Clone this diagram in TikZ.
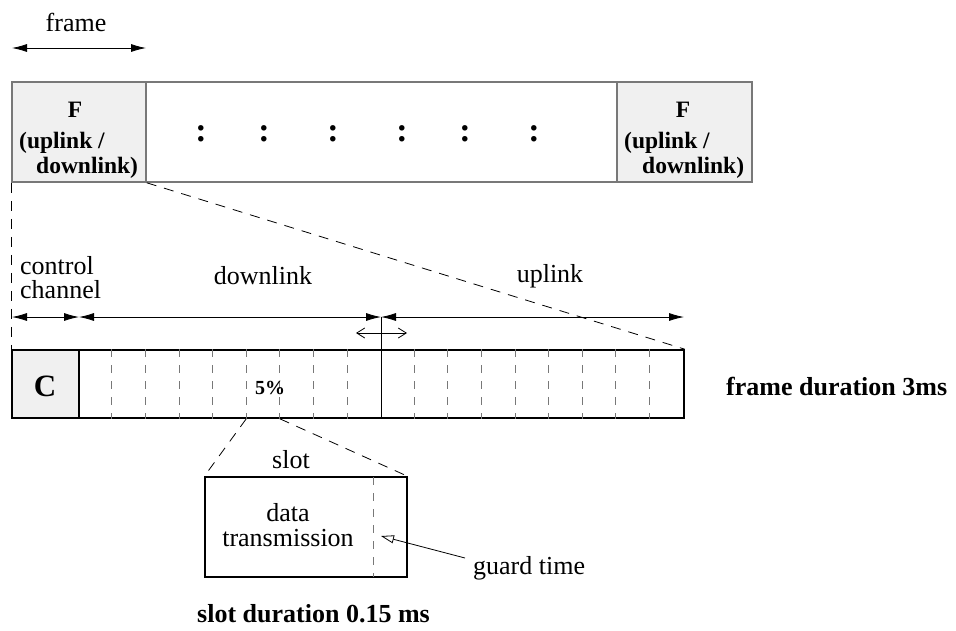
\documentclass[tikz,border=0pt]{standalone}
\usepackage{fontspec}
\setmainfont{Liberation Serif}
\usetikzlibrary{arrows.meta,calc}
\definecolor{boxgray}{RGB}{240,240,240}
\definecolor{linegray}{RGB}{120,120,120}
\tikzset{
  lbl/.style={inner sep=0pt, font=\fontsize{26}{24}\selectfont},
  blbl/.style={inner sep=0pt, font=\fontsize{26}{24}\selectfont\bfseries},
  ftxt/.style={inner sep=0pt, font=\fontsize{23.5}{25}\selectfont\bfseries},
  topbox/.style={draw=linegray, line width=1.6pt, minimum height=100pt, inner sep=0pt},
  fbox/.style={topbox, fill=boxgray},
  lowbox/.style={draw=black, line width=1.6pt, minimum height=68pt, inner sep=0pt},
  zoomline/.style={dashed, dash pattern=on 10pt off 8pt, line width=0.8pt},
  divider/.style={draw=linegray, line width=1pt, dash pattern=on 8pt off 8pt},
  dimarrow/.style={line width=0.8pt, {Latex[length=15pt,width=8pt]}-{Latex[length=15pt,width=8pt]}},
}
\begin{document}
\begin{tikzpicture}[x=1pt,y=-1pt]
\useasboundingbox (0,0) rectangle (956,630);
% top frame bar
\node[fbox, minimum width=134pt] (Fl) at (79,132) {};
\node[topbox, minimum width=471pt] (mid) at (381.5,132) {};
\node[fbox, minimum width=135pt] (Fr) at (684.5,132) {};
\node[ftxt] (Flf) at (75,110) {F};
\node[ftxt, anchor=base west] (Flu) at (19,148) {(uplink /};
\node[ftxt, anchor=base west] (Fld) at (36,173) {downlink)};
\node[ftxt] (Frf) at (683,110) {F};
\node[ftxt, anchor=base west] (Fru) at (624,148) {(uplink /};
\node[ftxt, anchor=base west] (Frd) at (642,173) {downlink)};
\foreach \i/\x in {1/201,2/264,3/333,4/402,5/465,6/534}{
  \node[inner sep=0pt, font=\fontsize{34}{34}\selectfont\bfseries] (dot\i) at (\x,134) {:};
}
% frame arrow
\node[lbl] (framelbl) at (76,22) {frame};
\coordinate (fa1) at (12,48);
\coordinate (fa2) at (146,48);
\draw[dimarrow] (fa1) -- (fa2);
% lower bar
\node[lowbox, fill=boxgray, minimum width=67pt] (C) at (45.5,384) {};
\node[inner sep=0pt, font=\fontsize{31}{31}\selectfont\bfseries] (Clbl) at (45,386) {C};
\node[lowbox, minimum width=605pt] (bar) at (381.5,384) {};
\foreach \k in {1,...,17}{
  \ifnum\k=9\relax\else
  \draw[divider] ($(bar.north west)+(\k*33.611,0)$) -- ($(bar.south west)+(\k*33.611,0)$);
  \fi
}
\coordinate (mtop) at (381,317);
\draw[line width=0.8pt] (mtop) -- (bar.south west -| mtop);
\node[inner sep=0pt, font=\fontsize{20}{20}\selectfont\bfseries] (pct) at (270,388) {5\%};
\node[blbl, anchor=west] (fdur) at (726,386) {frame duration 3ms};
% dimension arrows
\node[lbl, align=left, anchor=north west] (ctrl) at (20,256) {control\\channel};
\node[lbl] (dl) at (263,276) {downlink};
\node[lbl] (ul) at (550,276) {uplink};
\coordinate (d0) at (12,317);
\coordinate (d1) at (79,317);
\coordinate (d3) at (684,317);
\draw[dimarrow] (d0) -- (d1);
\draw[dimarrow] (d1) -- (mtop);
\draw[dimarrow] (mtop) -- (d3);
\coordinate (s1) at (356,333);
\coordinate (s2) at (407,333);
\draw[line width=0.8pt, {Straight Barb[length=8pt,width=10pt]}-{Straight Barb[length=8pt,width=10pt]}] (s1) -- (s2);
% zoom lines top
\draw[zoomline] (Fl.south west) -- (C.north west);
\draw[zoomline] (Fl.south east) -- (bar.north east);
% slot box
\node[draw=black, line width=1.4pt, minimum width=202pt, minimum height=100pt, inner sep=0pt] (slot) at (306,527) {};
\coordinate (g1) at (373,477);
\coordinate (g2) at (373,577);
\draw[divider] (g1) -- (g2);
\node[lbl] (slotlbl) at (291,460) {slot};
\node[inner sep=0pt, font=\fontsize{26}{25.5}\selectfont, align=center] (dt) at (288,525) {data\\transmission};
\coordinate (z1) at ($(bar.south west)+(5*33.611,0)$);
\coordinate (z2) at ($(bar.south west)+(6*33.611,0)$);
\draw[zoomline] (z1) -- (slot.north west);
\draw[zoomline] (z2) -- (slot.north east);
\node[lbl, anchor=west] (guard) at (473,568) {guard time};
\coordinate (gt) at (465,558);
\coordinate (gh) at (381,536);
\draw[line width=0.8pt, -{Triangle[open,length=13pt,width=8pt]}] (gt) -- (gh);
\node[blbl, anchor=west] (sdur) at (197,614) {slot duration 0.15 ms};
\end{tikzpicture}
\end{document}
